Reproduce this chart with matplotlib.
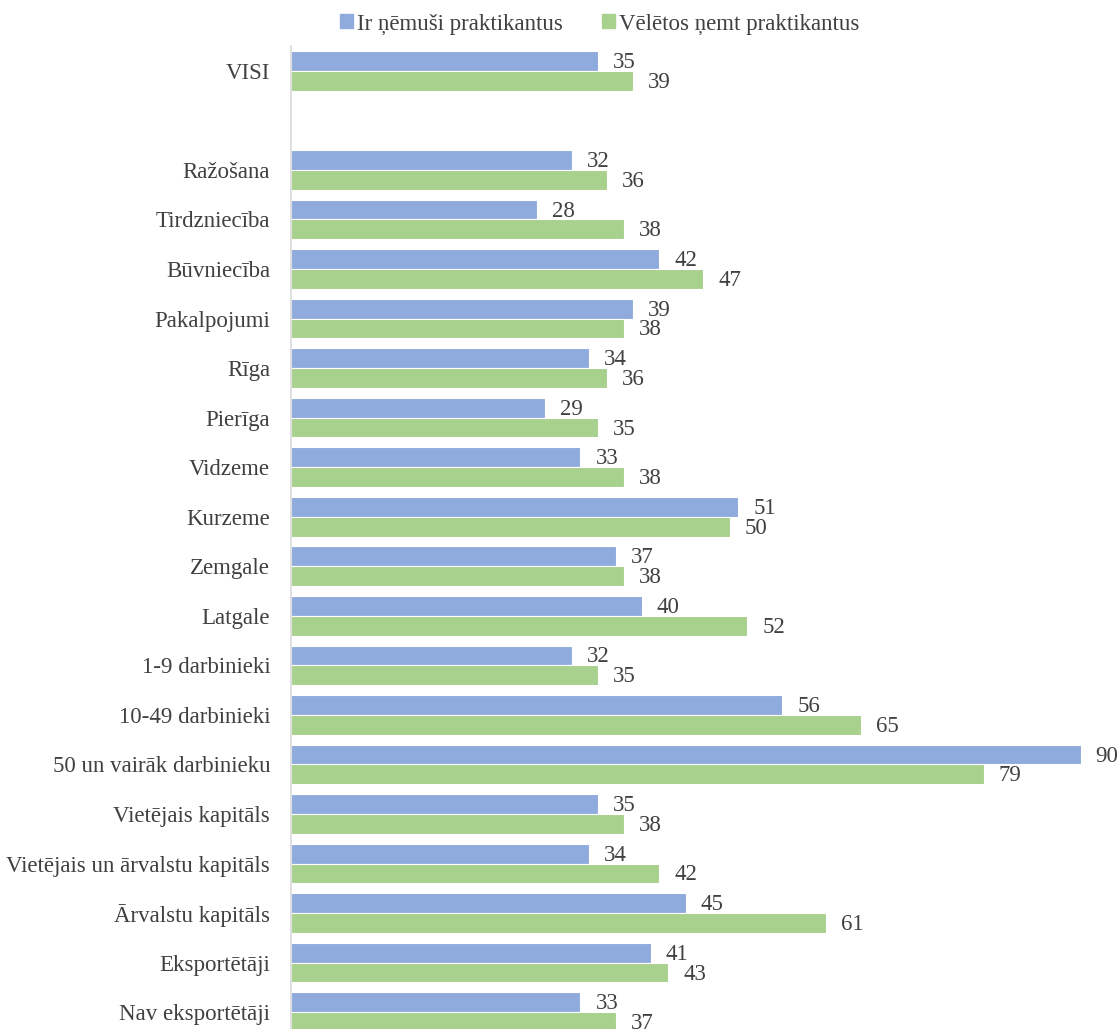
import matplotlib
matplotlib.use("Agg")
import matplotlib.pyplot as plt
from matplotlib.patches import Patch

categories = ["VISI", "", "Ražošana", "Tirdzniecība", "Būvniecība", "Pakalpojumi",
              "Rīga", "Pierīga", "Vidzeme", "Kurzeme", "Zemgale", "Latgale",
              "1-9 darbinieki", "10-49 darbinieki", "50 un vairāk darbinieku",
              "Vietējais kapitāls", "Vietējais un ārvalstu kapitāls",
              "Ārvalstu kapitāls", "Eksportētāji", "Nav eksportētāji"]
taken = [35, None, 32, 28, 42, 39, 34, 29, 33, 51, 37, 40, 32, 56, 90, 35, 34, 45, 41, 33]
want = [39, None, 36, 38, 47, 38, 36, 35, 38, 50, 38, 52, 35, 65, 79, 38, 42, 61, 43, 37]
series_names = ["Ir ņēmuši praktikantus", "Vēlētos ņemt praktikantus"]

BLUE = "#8FAADC"
GREEN = "#A9D18E"
TXT = "#404040"
FAM = "Liberation Serif"
FS = 16.5

W, H = 1120, 1029
fig = plt.figure(figsize=(W / 100, H / 100), dpi=100)
left, right = 291 / W, 1.0
top = 1 - 46 / H
bottom = -8 / H
ax = fig.add_axes([left, bottom, right - left, top - bottom])

bh = 0.4
dy = 0.03
for i, (a, b) in enumerate(zip(taken, want)):
    if a is not None:
        ax.barh(i - bh / 2, a, height=bh, color=BLUE, edgecolor="white", linewidth=0.8)
        ax.text(a + 1.7, i - bh / 2 + dy, str(a), va="center", ha="left",
                fontsize=FS, color=TXT, family=FAM)
    if b is not None:
        ax.barh(i + bh / 2, b, height=bh, color=GREEN, edgecolor="white", linewidth=0.8)
        ax.text(b + 1.7, i + bh / 2 + dy, str(b), va="center", ha="left",
                fontsize=FS, color=TXT, family=FAM)

ax.set_xlim(0, 94.5)
ax.set_ylim(19.5, -0.5)
ax.set_yticks(range(len(categories)))
ax.set_yticklabels(categories, fontsize=FS, color=TXT, family=FAM)
ax.tick_params(axis="y", length=0, pad=15)
ax.set_xticks([])
for s in ["top", "right", "bottom"]:
    ax.spines[s].set_visible(False)
ax.spines["left"].set_color("#D9D9D9")
ax.spines["left"].set_linewidth(1.2)

handles = [Patch(color=BLUE), Patch(color=GREEN)]
fig.legend(handles, series_names, loc="center", bbox_to_anchor=(600 / W, 1 - 24 / H),
           ncol=2, frameon=False, handlelength=0.55, handleheight=0.55, handletextpad=0.2,
           columnspacing=1.7, prop=dict(family=FAM, size=FS),
           labelcolor=TXT)

fig.savefig("out.png", dpi=100)
